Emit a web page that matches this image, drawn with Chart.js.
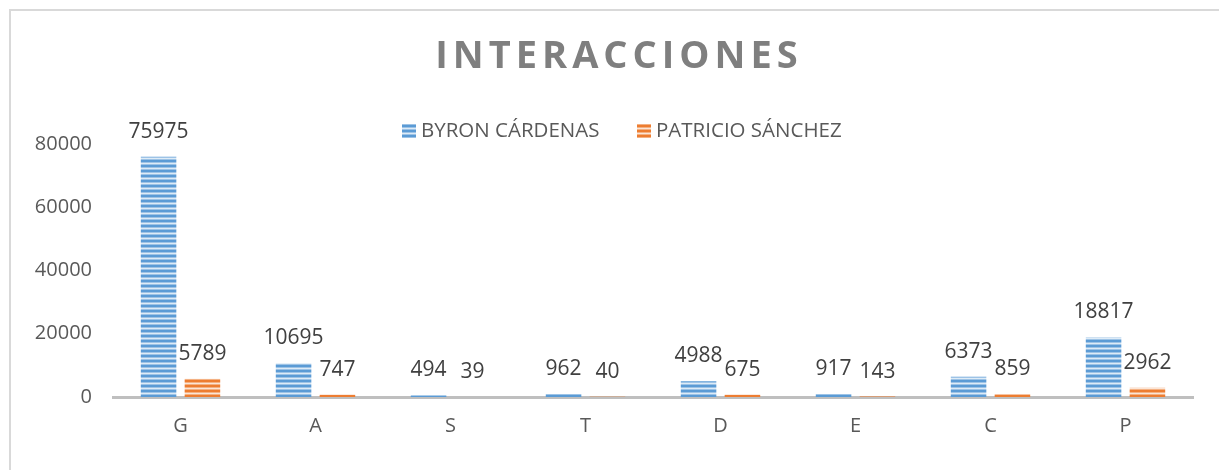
<!DOCTYPE html>
<html>
<head>
<meta charset="utf-8">
<script src="https://cdn.jsdelivr.net/npm/chart.js@4/dist/chart.umd.min.js"></script>
<style>
  html, body { margin: 0; padding: 0; background: #fff; width: 1219px; height: 470px; overflow: hidden; }
  #frame { position: absolute; left: 9px; top: 9px; width: 1400px; height: 600px;
           border-top: 2px solid #D9D9D9; border-left: 2px solid #D9D9D9; box-sizing: border-box; }
  #wrap { position: absolute; left: 0; top: 0; width: 1219px; height: 470px; }
</style>
</head>
<body>
<div id="frame"></div>
<div id="wrap"><canvas id="c" width="1219" height="470"></canvas></div>
<script>
const chartTitle = "INTERACCIONES";
const categories = ["G", "A", "S", "T", "D", "E", "C", "P"];
const seriesNames = ["BYRON CÁRDENAS", "PATRICIO SÁNCHEZ"];
const byronValues = [75975, 10695, 494, 962, 4988, 917, 6373, 18817];
const patricioValues = [5789, 747, 39, 40, 675, 143, 859, 2962];
const yTicks = [0, 20000, 40000, 60000, 80000];

const FONT = "'Open Sans', 'Noto Sans', sans-serif";

function stripePattern(dark, mid, light) {
  const c = document.createElement('canvas');
  c.width = 8; c.height = 5;
  const x = c.getContext('2d');
  const rows = [dark, dark, mid, light, mid];
  rows.forEach((col, i) => { x.fillStyle = col; x.fillRect(0, i, 8, 1); });
  return document.getElementById('c').getContext('2d').createPattern(c, 'repeat');
}
const bluePat = stripePattern('#5B9BD5', '#9DC3E6', '#DDEBF7');
const orangePat = stripePattern('#ED7D31', '#F4B183', '#FBE5D6');

const decorPlugin = {
  id: 'decor',
  afterDraw(chart) {
    const ctx = chart.ctx;
    ctx.save();
    // Title
    ctx.font = "bold 38px " + FONT;
    ctx.fillStyle = '#7F7F7F';
    ctx.textBaseline = 'middle';
    ctx.textAlign = 'center';
    if ('letterSpacing' in ctx) ctx.letterSpacing = '5px';
    ctx.fillText(chartTitle, 619, 57);
    if ('letterSpacing' in ctx) ctx.letterSpacing = '0px';
    // Legend
    ctx.font = "20.5px " + FONT;
    ctx.textAlign = 'left';
    const items = [{x: 402, pat: bluePat}, {x: 637, pat: orangePat}];
    chart.data.datasets.forEach((ds, i) => {
      const it = items[i];
      ctx.fillStyle = it.pat;
      ctx.fillRect(it.x, 124, 14, 14);
      ctx.fillStyle = '#595959';
      ctx.fillText(ds.label, it.x + 19, 131);
    });
    // Data labels
    ctx.font = "21px " + FONT;
    ctx.fillStyle = '#404040';
    ctx.textAlign = 'center';
    chart.data.datasets.forEach((ds, di) => {
      const meta = chart.getDatasetMeta(di);
      meta.data.forEach((bar, i) => {
        ctx.fillText(String(ds.data[i]), bar.x, bar.y - 25);
      });
    });
    ctx.restore();
  }
};

new Chart(document.getElementById('c'), {
  type: 'bar',
  data: {
    labels: categories,
    datasets: [
      { label: seriesNames[0], data: byronValues, backgroundColor: bluePat, borderWidth: 0 },
      { label: seriesNames[1], data: patricioValues, backgroundColor: orangePat, borderWidth: 0 }
    ]
  },
  options: {
    responsive: false,
    animation: false,
    events: [],
    categoryPercentage: 0.65,
    barPercentage: 0.81,
    layout: { padding: { top: 144, bottom: 15, left: 0, right: 26 } },
    plugins: { legend: { display: false }, title: { display: false }, tooltip: { enabled: false } },
    scales: {
      x: {
        grid: { display: false, drawTicks: false },
        border: { display: true, color: '#BFBFBF', width: 3 },
        ticks: { color: '#595959', font: { family: FONT, size: 20 }, padding: 17 }
      },
      y: {
        min: 0, max: 80000,
        afterFit(scale) { scale.width = 113; },
        afterBuildTicks(scale) { scale.ticks = yTicks.map(v => ({ value: v })); },
        grid: { display: false, drawTicks: false },
        border: { display: false },
        ticks: { color: '#595959', font: { family: FONT, size: 20 }, padding: 21,
                 callback: (v) => String(v) }
      }
    }
  },
  plugins: [decorPlugin]
});
</script>
</body>
</html>
